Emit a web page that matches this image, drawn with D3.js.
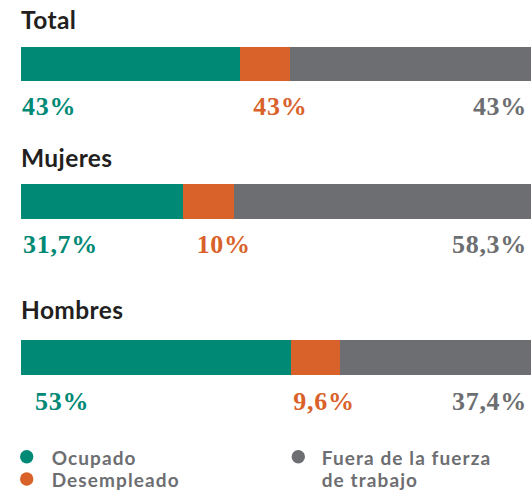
<!DOCTYPE html>
<html>
<head>
<meta charset="utf-8">
<script src="https://cdn.jsdelivr.net/npm/d3@7"></script>
<style>
  html, body { margin: 0; padding: 0; background: #ffffff; }
  svg { display: block; }
</style>
</head>
<body>
<svg id="chart" width="531" height="497"></svg>
<script>
// ---- Data ----
const groups = ["Total", "Mujeres", "Hombres"];
const categories = ["Ocupado", "Desempleado", "Fuera de la fuerza de trabajo"];
const ocupado     = [43, 31.7, 53];
const desempleado = [9.8, 10, 9.6];
const fuera       = [47.2, 58.3, 37.4];
const valueLabels = [
  ["43%", "43%", "43%"],
  ["31,7%", "10%", "58,3%"],
  ["53%", "9,6%", "37,4%"]
];
const legendLines = [["Ocupado"], ["Desempleado"], ["Fuera de la fuerza", "de trabajo"]];

// ---- Layout / style ----
const colors = ["#008975", "#d9622b", "#6d6e71"];
const barLeft = 21, barRight = 531;
const barTops = [46.5, 184, 340];
const barH = 34.5;
const titleBase = [29.3, 166.7, 318.5];
const labelBase = [114.5, 253, 410];
// label x offsets from the start of their segment (gray is right-anchored)
const labelOffsets = [[1, 13], [2, 14], [14, 2]];

const svg = d3.select("#chart");
const x = d3.scaleLinear().domain([0, 100]).range([barLeft, barRight]);
const color = d3.scaleOrdinal().domain(categories).range(colors);

const rows = groups.map((g, i) => {
  const vals = [ocupado[i], desempleado[i], fuera[i]];
  let acc = 0;
  const segs = vals.map((v, j) => {
    const s = { cat: categories[j], x0: acc, x1: acc + v, label: valueLabels[i][j] };
    acc += v;
    return s;
  });
  return { group: g, i, segs };
});

const rowG = svg.selectAll("g.row").data(rows).join("g").attr("class", "row");

rowG.append("text")
  .attr("x", 21)
  .attr("y", d => titleBase[d.i])
  .attr("font-family", "Lato, 'Open Sans', sans-serif")
  .attr("font-weight", 700)
  .attr("font-size", 24.5)
  .attr("letter-spacing", 0.4)
  .attr("fill", "#231f20")
  .text(d => d.group);

rowG.selectAll("rect")
  .data(d => d.segs.map(s => ({ ...s, i: d.i })))
  .join("rect")
  .attr("x", d => x(d.x0))
  .attr("y", d => barTops[d.i])
  .attr("width", d => x(d.x1) - x(d.x0))
  .attr("height", barH)
  .attr("shape-rendering", "crispEdges")
  .attr("fill", d => color(d.cat));

rowG.selectAll("text.val")
  .data(d => d.segs.map((s, j) => ({ ...s, i: d.i, j })))
  .join("text")
  .attr("class", "val")
  .attr("x", d => d.j === 2 ? 527 : x(d.x0) + labelOffsets[d.i][d.j])
  .attr("y", d => labelBase[d.i])
  .attr("text-anchor", d => d.j === 2 ? "end" : "start")
  .attr("font-family", "'Liberation Serif', 'DejaVu Serif', serif")
  .attr("font-weight", 700)
  .attr("font-size", 26)
  .attr("letter-spacing", 0.7)
  .attr("fill", d => color(d.cat))
  .text(d => d.label);

// ---- Legend ----
const legendPos = [
  { cx: 26.7, cy: 456.7, tx: 51.7, ty: 464.5 },
  { cx: 26.7, cy: 479, tx: 51.7, ty: 486.7 },
  { cx: 298.3, cy: 456.7, tx: 321.7, ty: 464.5 }
];
const leg = svg.selectAll("g.leg").data(categories).join("g").attr("class", "leg");
leg.append("circle")
  .attr("cx", (d, i) => legendPos[i].cx)
  .attr("cy", (d, i) => legendPos[i].cy)
  .attr("r", 6.7)
  .attr("fill", d => color(d));
leg.each(function(d, i) {
  const t = d3.select(this).append("text")
    .attr("font-family", "Lato, 'Open Sans', sans-serif")
    .attr("font-weight", 700)
    .attr("font-size", 19)
    .attr("letter-spacing", 1.1)
    .attr("fill", "#6d6e71");
  legendLines[i].forEach((line, k) => {
    t.append("tspan")
      .attr("x", legendPos[i].tx)
      .attr("y", legendPos[i].ty + k * 22.2)
      .text(line);
  });
});
</script>
</body>
</html>
